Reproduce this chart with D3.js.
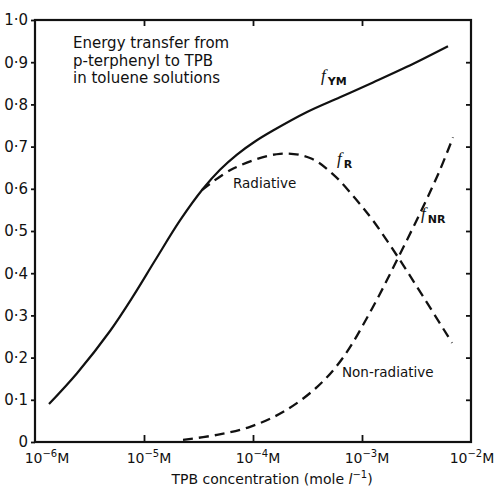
<!DOCTYPE html>
<html>
<head>
<meta charset="utf-8">
<script src="https://cdn.jsdelivr.net/npm/d3@7"></script>
<style>
  html, body { margin: 0; padding: 0; background: #fff; }
  svg { display: block; }
  text { font-family: "DejaVu Sans", sans-serif; fill: #111; }
</style>
</head>
<body>
<svg id="chart" width="499" height="493"></svg>
<script>
// ---- data ----
const fYM_conc = [1.344e-6, 2.43e-6, 4.88e-6, 7.93e-6, 1.262e-5, 2.14e-5, 3.48e-5, 4.98e-5, 7.13e-5, 1.043e-4, 1.526e-4, 3.13e-4, 6.28e-4, 1.262e-3, 2.58e-3, 6.15e-3];
const fYM_val  = [0.09, 0.163, 0.263, 0.345, 0.43, 0.525, 0.600, 0.645, 0.681, 0.712, 0.738, 0.782, 0.817, 0.852, 0.889, 0.938];

const fR_conc = [3.4e-5, 6.6e-5, 1.77e-4, 3.33e-4, 5.4e-4, 8.8e-4, 1.26e-3, 2.14e-3, 3.63e-3, 6.7e-3];
const fR_val  = [0.597, 0.648, 0.683, 0.673, 0.635, 0.575, 0.525, 0.438, 0.345, 0.235];

const fNR_conc = [2.28e-5, 4.68e-5, 9.4e-5, 1.88e-4, 3.86e-4, 6.7e-4, 1.26e-3, 2.14e-3, 3.63e-3, 5.2e-3, 6.84e-3];
const fNR_val  = [0.005, 0.017, 0.036, 0.071, 0.13, 0.2, 0.32, 0.436, 0.557, 0.645, 0.722];

const xTicks = [1e-6, 1e-5, 1e-4, 1e-3, 1e-2];
const xTickExp = ["\u22126", "\u22125", "\u22124", "\u22123", "\u22122"];
const yTicks = [0, 0.1, 0.2, 0.3, 0.4, 0.5, 0.6, 0.7, 0.8, 0.9, 1.0];
const yTickLabels = ["0", "0\u00b71", "0\u00b72", "0\u00b73", "0\u00b74", "0\u00b75", "0\u00b76", "0\u00b77", "0\u00b78", "0\u00b79", "1\u00b70"];
const titleLines = ["Energy transfer from", "p-terphenyl to TPB", "in toluene solutions"];

// ---- layout ----
const svg = d3.select("#chart");
const L = 35, R = 471, T = 20, B = 442;
const x = d3.scaleLog().domain([1e-6, 1e-2]).range([L, R]);
const y = d3.scaleLinear().domain([0, 1]).range([B, T]);

const line = d3.line().x(d => x(d[0])).y(d => y(d[1])).curve(d3.curveCatmullRom.alpha(0.5));
const zip = (a, b) => a.map((v, i) => [v, b[i]]);

// curves
svg.append("path").attr("d", line(zip(fYM_conc, fYM_val)))
  .attr("fill", "none").attr("stroke", "#111").attr("stroke-width", 2.2);
svg.append("path").attr("d", line(zip(fR_conc, fR_val)))
  .attr("fill", "none").attr("stroke", "#111").attr("stroke-width", 2.3)
  .attr("stroke-dasharray", "10,6");
svg.append("path").attr("d", line(zip(fNR_conc, fNR_val)))
  .attr("fill", "none").attr("stroke", "#111").attr("stroke-width", 2.3)
  .attr("stroke-dasharray", "10,6");

// frame
svg.append("rect").attr("x", L).attr("y", T).attr("width", R - L).attr("height", B - T)
  .attr("fill", "none").attr("stroke", "#111").attr("stroke-width", 2.2);

// left axis (ticks outward)
const yAxisL = d3.axisLeft(y).tickValues(yTicks).tickSize(4).tickPadding(3)
  .tickFormat((d, i) => yTickLabels[i]);
const gL = svg.append("g").attr("transform", `translate(${L},0)`).call(yAxisL);
gL.select(".domain").remove();
gL.selectAll("line").attr("stroke", "#111").attr("stroke-width", 1.8);
gL.selectAll("text").style("font-size", "15px").style("font-family", "DejaVu Sans, sans-serif").attr("fill", "#111");

// right axis ticks (inward)
const yAxisR = d3.axisRight(y).tickValues(yTicks.slice(1, 10)).tickSize(-5).tickFormat("");
const gR = svg.append("g").attr("transform", `translate(${R},0)`).call(yAxisR);
gR.select(".domain").remove();
gR.selectAll("line").attr("stroke", "#111").attr("stroke-width", 1.8);

// bottom axis
const xAxisB = d3.axisBottom(x).tickValues(xTicks.slice(1, 4)).tickSize(-7).tickFormat("");
const gB = svg.append("g").attr("transform", `translate(0,${B})`).call(xAxisB);
gB.select(".domain").remove();
gB.selectAll("line").attr("stroke", "#111").attr("stroke-width", 1.8);

// top axis
const xAxisT = d3.axisTop(x).tickValues(xTicks.slice(1, 4)).tickSize(-6).tickFormat("");
const gT = svg.append("g").attr("transform", `translate(0,${T})`).call(xAxisT);
gT.select(".domain").remove();
gT.selectAll("line").attr("stroke", "#111").attr("stroke-width", 1.8);

// x tick labels
const xl = svg.append("g").selectAll("text").data(xTicks).join("text")
  .attr("x", d => Math.min(Math.max(x(d) + 5, 47), 472))
  .attr("y", 463)
  .attr("text-anchor", "middle")
  .style("font-size", "14px");
xl.append("tspan").text("10");
xl.append("tspan").attr("dy", -6).style("font-size", "10px").text((d, i) => xTickExp[i]);
xl.append("tspan").attr("dy", 6).text("M");

// x axis title
const xt = svg.append("text").attr("x", 272).attr("y", 484).attr("text-anchor", "middle")
  .style("font-size", "14px");
xt.append("tspan").text("TPB concentration (mole ");
xt.append("tspan").style("font-style", "italic").text("l");
xt.append("tspan").attr("dy", -6).style("font-size", "10px").text("\u22121");
xt.append("tspan").attr("dy", 6).text(")");

// annotation block
svg.append("g").selectAll("text").data(titleLines).join("text")
  .attr("x", 73).attr("y", (d, i) => 48 + i * 17.5)
  .style("font-size", "15px").text(d => d);

// curve labels
function fLabel(px, py, sub) {
  const t = svg.append("text").attr("x", px).attr("y", py).style("font-size", "17px");
  t.append("tspan").style("font-style", "italic").style("font-family", "Liberation Serif, serif").text("f");
  t.append("tspan").attr("dx", 2).attr("dy", 4).style("font-size", "11px").style("font-weight", "bold").text(sub);
}
fLabel(321, 81, "YM");
fLabel(337, 164, "R");
fLabel(421, 219, "NR");

svg.append("text").attr("x", 233).attr("y", 188).style("font-size", "13.5px").text("Radiative");
svg.append("text").attr("x", 342).attr("y", 377).style("font-size", "13.5px").text("Non-radiative");
</script>
</body>
</html>
